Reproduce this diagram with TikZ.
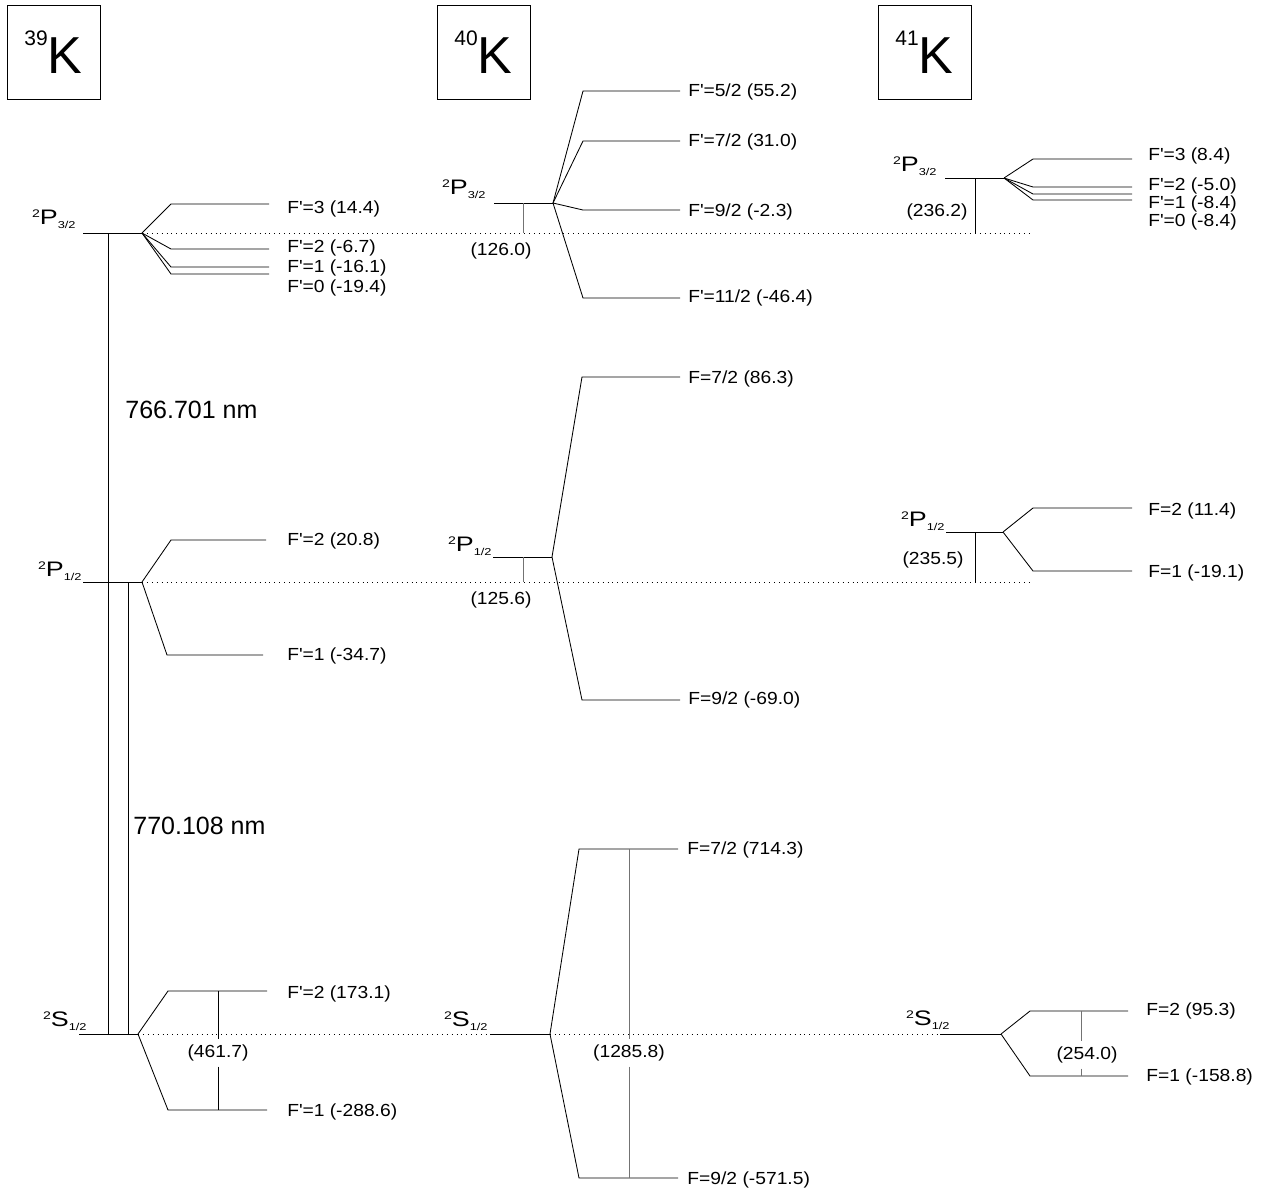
\documentclass[tikz,border=0pt]{standalone}
\usepackage{fontspec}
\setmainfont{Liberation Sans}
\newfontfamily\widefont[FakeStretch=1.1]{Liberation Sans}
\newfontfamily\termfont[FakeStretch=1.28]{Liberation Sans}
\usetikzlibrary{positioning}
\newcommand{\fp}{F\textquotesingle}
\newcommand{\lvl}[2]{\raisebox{7pt}{\fontsize{11}{11}\selectfont 2}#1\raisebox{-4pt}{\fontsize{10}{10}\selectfont #2}}
\newcommand{\iso}[1]{\raisebox{28pt}{\fontsize{21}{21}\selectfont #1}K}

\begin{document}
\begin{tikzpicture}[x=1pt, y=-1pt, line width=0.85pt, every node/.style={inner sep=0pt}, lbl/.style={font=\widefont\fontsize{17.5}{17.5}\selectfont, anchor=west}, gap/.style={font=\widefont\fontsize{17.5}{17.5}\selectfont, inner ysep=5pt}, term/.style={font=\termfont\fontsize{21}{21}\selectfont, anchor=south east}, isobox/.style={draw, minimum width=93pt, minimum height=94pt, font=\fontsize{52}{52}\selectfont}, wave/.style={font=\fontsize{25}{25}\selectfont, anchor=west}, refline/.style={line width=0.8pt, dash pattern=on 0.9pt off 4pt}, greyline/.style={black!55}]
\useasboundingbox (0,0) rectangle (1265,1195);
% isotopes
\node[isobox] (k39) at (53.5,52) {\iso{39}};
\node[isobox] (k40) at (483.5,52) {\iso{40}};
\node[isobox] (k41) at (924.5,52) {\iso{41}};
% fine structure levels
\coordinate (p39a0) at (83,233); \coordinate (p39a) at (142,233);
\coordinate (p39b0) at (83,582); \coordinate (p39b) at (142,582);
\coordinate (s39a0) at (79,1034); \coordinate (s39a) at (138,1034);
\coordinate (p40a0) at (494,203); \coordinate (p40a) at (553,203);
\coordinate (p40b0) at (493,557); \coordinate (p40b) at (552,557);
\coordinate (s40a0) at (490,1034); \coordinate (s40a) at (550,1034);
\coordinate (p41a0) at (945,178); \coordinate (p41a) at (1004,178);
\coordinate (p41b0) at (946,532); \coordinate (p41b) at (1003,532);
\coordinate (s41a0) at (940,1034); \coordinate (s41a) at (1001,1034);
\coordinate (d1) at (1030,233); \coordinate (d2) at (1033,582);
\draw[refline] (p39a) -- (d1);
\draw[refline] (p39b) -- (d2);
\draw[refline] (s39a) -- (s41a0);
\foreach \a in {p39a,p39b,s39a,p40a,p40b,s40a,p41a,p41b,s41a} \draw (\a0) -- (\a);
\node[term] (t39a) at (76,229) {\lvl{P}{3/2}};
\node[term] (t39b) at (82,581) {\lvl{P}{1/2}};
\node[term] (t39s) at (87,1031) {\lvl{S}{1/2}};
\node[term] (t40a) at (486,199) {\lvl{P}{3/2}};
\node[term] (t40b) at (492,556) {\lvl{P}{1/2}};
\node[term] (t40s) at (488,1031) {\lvl{S}{1/2}};
\node[term] (t41a) at (937,176) {\lvl{P}{3/2}};
\node[term] (t41b) at (945,531) {\lvl{P}{1/2}};
\node[term] (t41s) at (950,1030) {\lvl{S}{1/2}};
% hyperfine levels
\foreach \lv/\xa/\xb/\xl/\y/\ly/\txt in {p39a/171/269/287/204/209/{\fp=3 (14.4)}, p39a/171/269/287/249/248/{\fp=2 (-6.7)}, p39a/171/269/287/267/268/{\fp=1 (-16.1)}, p39a/171/269/287/274/288/{\fp=0 (-19.4)}, p39b/171/266/287/540/541/{\fp=2 (20.8)}, p39b/167/263/287/655/656/{\fp=1 (-34.7)}, s39a/168/267/287/991/994/{\fp=2 (173.1)}, s39a/168/267/287/1110/1112/{\fp=1 (-288.6)}}{
  \coordinate (\lv-\y-a) at (\xa,\y); \coordinate (\lv-\y-b) at (\xb,\y);
  \node[lbl] (\lv-\y-l) at (\xl,\ly) {\txt};
  \draw (\lv) -- (\lv-\y-a) -- (\lv-\y-b);
}
\foreach \lv/\xa/\xb/\xl/\y/\ly/\txt in {p40a/583/680/688/91/92/{\fp=5/2 (55.2)}, p40a/583/680/688/141/142/{\fp=7/2 (31.0)}, p40a/583/680/688/210/212/{\fp=9/2 (-2.3)}, p40a/583/680/688/298/298/{\fp=11/2 (-46.4)}, p40b/582/680/688/377/379/{F=7/2 (86.3)}, p40b/582/680/688/700/700/{F=9/2 (-69.0)}, s40a/579/678/687/849/850/{F=7/2 (714.3)}, s40a/579/678/687/1178/1180/{F=9/2 (-571.5)}}{
  \coordinate (\lv-\y-a) at (\xa,\y); \coordinate (\lv-\y-b) at (\xb,\y);
  \node[lbl] (\lv-\y-l) at (\xl,\ly) {\txt};
  \draw (\lv) -- (\lv-\y-a) -- (\lv-\y-b);
}
\foreach \lv/\xa/\xb/\xl/\y/\ly/\txt in {p41a/1033/1132/1148/159/156/{\fp=3 (8.4)}, p41a/1033/1132/1148/187/186/{\fp=2 (-5.0)}, p41a/1033/1132/1148/194/204/{\fp=1 (-8.4)}, p41a/1033/1132/1148/200/222/{\fp=0 (-8.4)}, p41b/1033/1132/1148/508/511/{F=2 (11.4)}, p41b/1033/1132/1148/571/573/{F=1 (-19.1)}, s41a/1030/1128/1146/1011/1011/{F=2 (95.3)}, s41a/1030/1128/1146/1076/1077/{F=1 (-158.8)}}{
  \coordinate (\lv-\y-a) at (\xa,\y); \coordinate (\lv-\y-b) at (\xb,\y);
  \node[lbl] (\lv-\y-l) at (\xl,\ly) {\txt};
  \draw (\lv) -- (\lv-\y-a) -- (\lv-\y-b);
}
% D lines
\coordinate (w1a) at (108,233); \coordinate (w1b) at (108,1034);
\coordinate (w2a) at (128,582); \coordinate (w2b) at (128,1034);
\draw (w1a) -- (w1b);
\draw (w2a) -- (w2b);
\node[wave] (w1l) at (125,410) {766.701 nm};
\node[wave] (w2l) at (133,826) {770.108 nm};
% splittings
\coordinate (h40a) at (523,203); \coordinate (h40b) at (523,557);
\coordinate (h41a) at (975,178); \coordinate (h41b) at (975,532);
\coordinate (h41s) at (1081,1011);
\draw[greyline] (h40a) -- (h40a |- p39a);
\draw[greyline] (h40b) -- (h40b |- p39b);
\draw (h41a) -- (h41a |- p39a);
\draw (h41b) -- (h41b |- p39b);
\node[gap] (h40al) at (501,251) {(126.0)};
\node[gap] (h40bl) at (501,600) {(125.6)};
\node[gap] (h41al) at (937,212) {(236.2)};
\node[gap] (h41bl) at (933,560) {(235.5)};
\node[gap] (h39sl) at (218,1053) {(461.7)};
\node[gap] (h40sl) at (629,1053) {(1285.8)};
\node[gap] (h41sl) at (1087,1055) {(254.0)};
\draw (h39sl |- s39a-991-a) -- (h39sl.north);
\draw (h39sl.south) -- (h39sl |- s39a-1110-a);
\draw[greyline] (h40sl |- s40a-849-a) -- (h40sl.north);
\draw[greyline] (h40sl.south) -- (h40sl |- s40a-1178-a);
\draw[greyline] (h41s) -- (h41s |- h41sl.north);
\draw[greyline] (h41s |- h41sl.south) -- (h41s |- s41a-1076-a);
\end{tikzpicture}
\end{document}
